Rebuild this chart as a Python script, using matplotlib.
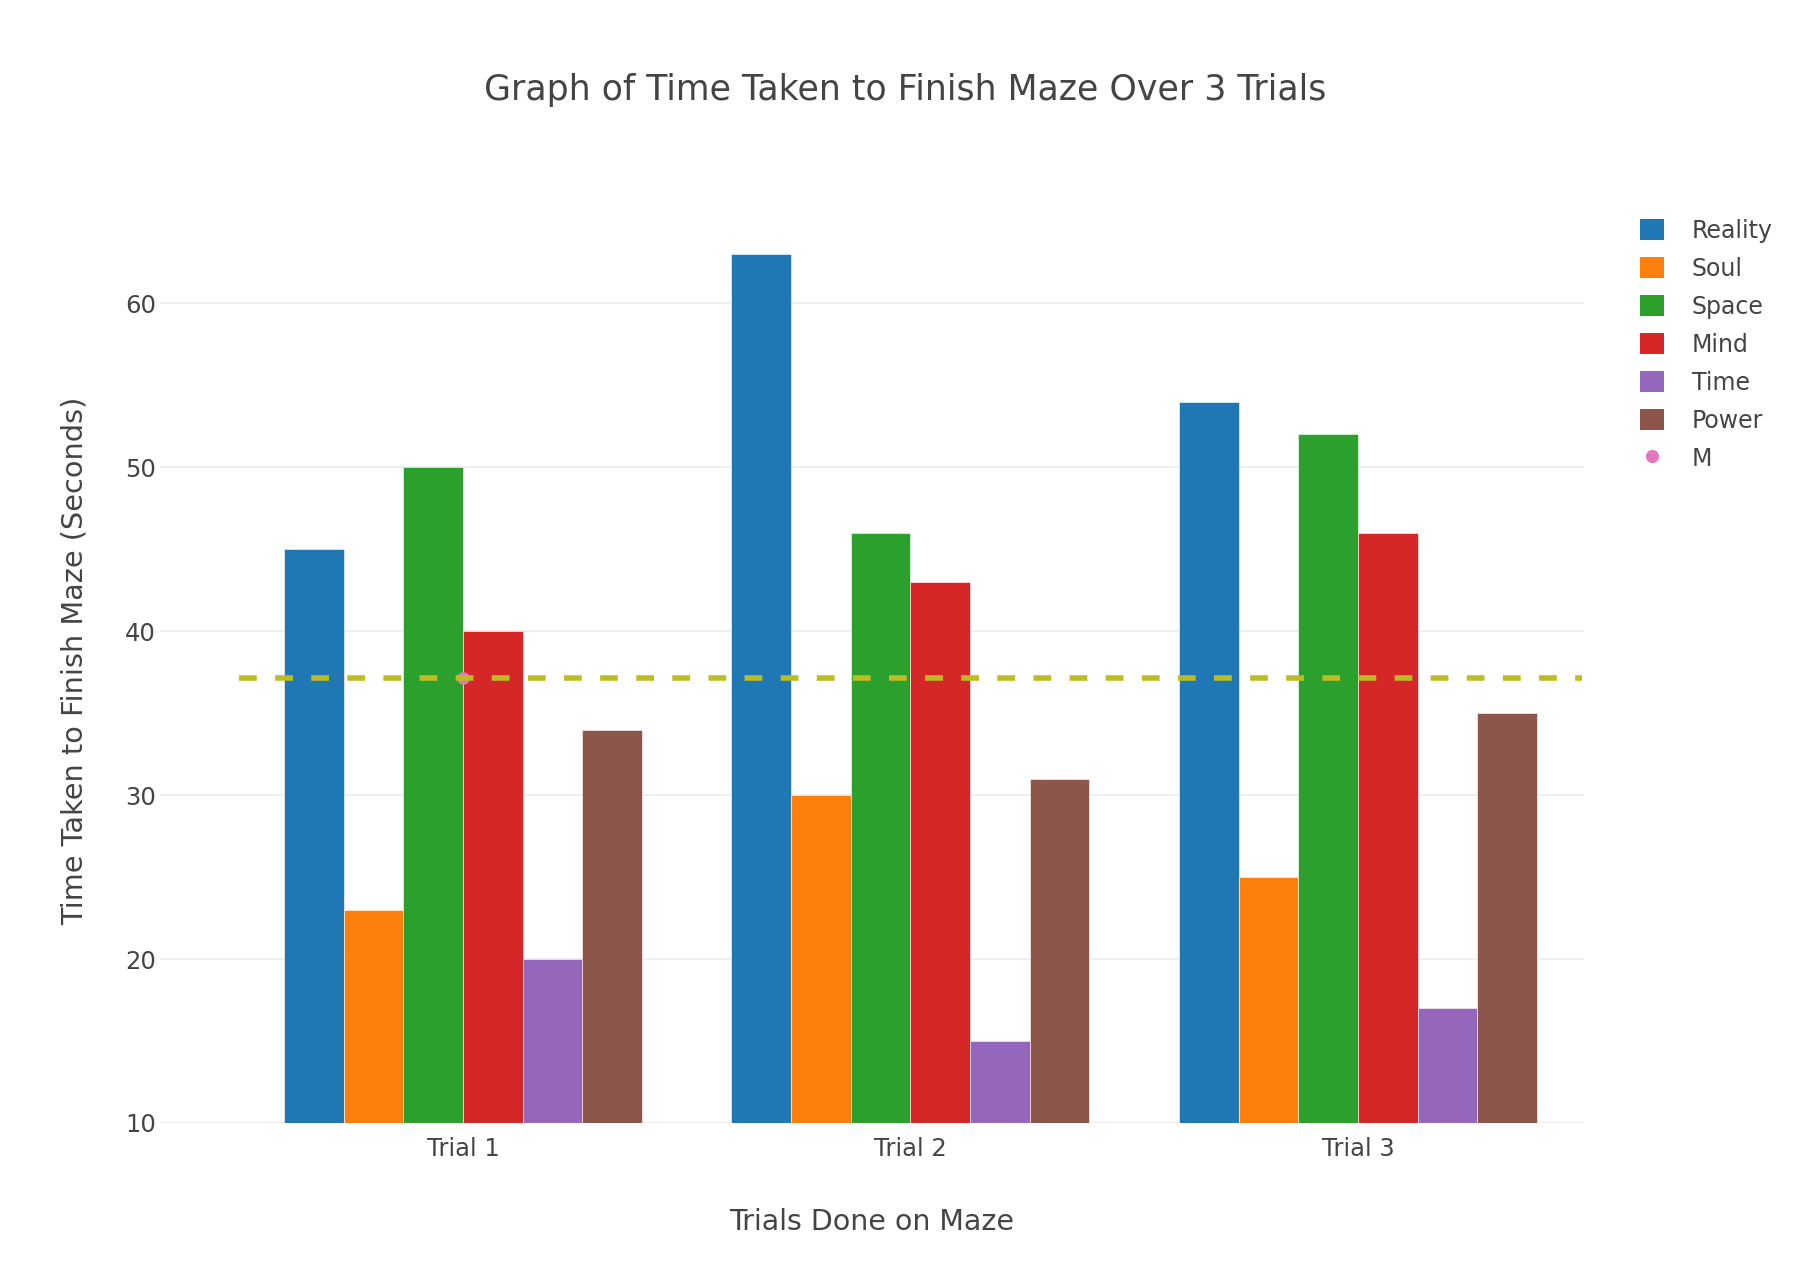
import numpy as np
import matplotlib
matplotlib.use("Agg")
import matplotlib.pyplot as plt
from matplotlib.patches import Patch
from matplotlib.lines import Line2D

# Data
trials = ["Trial 1", "Trial 2", "Trial 3"]
reality = [45, 63, 54]
soul = [23, 30, 25]
space = [50, 46, 52]
mind = [40, 43, 46]
time_stone = [20, 15, 17]
power = [34, 31, 35]
series_names = ["Reality", "Soul", "Space", "Mind", "Time", "Power"]
series_values = [reality, soul, space, mind, time_stone, power]
mean_value = np.mean(series_values)  # about 37.17

colors = ["#1f77b4", "#ff7f0e", "#2ca02c", "#d62728", "#9467bd", "#8c564b"]
m_color = "#e377c2"
line_color = "#bcbd22"
txt = "#444444"

plt.rcParams["font.family"] = ["DejaVu Sans"]

fig = plt.figure(figsize=(18.1, 12.84), dpi=100)
ax = fig.add_axes([160 / 1810, 161 / 1284, 1424 / 1810, 923 / 1284])

x = np.arange(len(trials))
w = 0.8 / len(series_names)
for i, (name, vals) in enumerate(zip(series_names, series_values)):
    ax.bar(x + (i - 2.5) * w, vals, width=w, color=colors[i],
           edgecolor="white", linewidth=0.4, label=name, zorder=2)

# mean line and point
ax.plot([-0.5, 2.5], [mean_value, mean_value], color=line_color, lw=4.0,
        dashes=(3.2, 3.3), zorder=4)
ax.plot([0], [mean_value], "o", color=m_color, ms=8, zorder=3)

ax.set_xlim(-0.677, 2.505)
ax.set_ylim(10, 66.3)
ax.set_xticks(x)
ax.set_xticklabels(trials)
ax.set_yticks([10, 20, 30, 40, 50, 60])
ax.tick_params(axis="both", length=0, labelsize=17.5, colors=txt)
ax.tick_params(axis="y", pad=3)
ax.tick_params(axis="x", pad=10)
ax.grid(axis="y", color="#eeeeee", lw=1.3, zorder=0)
ax.set_axisbelow(True)
for s in ax.spines.values():
    s.set_visible(False)

fig.text(872 / 1810, 1 - 1222 / 1284, "Trials Done on Maze", fontsize=20.5,
         color=txt, ha="center", va="center")
fig.text(75 / 1810, 1 - 661 / 1284, "Time Taken to Finish Maze (Seconds)",
         fontsize=20.7, color=txt, ha="center", va="center", rotation=90)
fig.text(0.5, 1 - 90 / 1284, "Graph of Time Taken to Finish Maze Over 3 Trials",
         fontsize=25, color=txt, ha="center", va="center")

handles = [Patch(facecolor=c, edgecolor="none") for c in colors]
handles.append(Line2D([], [], marker="o", color=m_color, ls="none", ms=8.5))
leg = fig.legend(handles, series_names + ["M"], loc="upper left",
                 bbox_to_anchor=(1640 / 1810, 1 - 219 / 1284), frameon=False,
                 fontsize=17, handlelength=1.0, handleheight=1.0,
                 handletextpad=1.2, labelspacing=0.59, borderpad=0,
                 borderaxespad=0)
for t in leg.get_texts():
    t.set_color(txt)

fig.savefig("out.png", dpi=100, facecolor="white")
